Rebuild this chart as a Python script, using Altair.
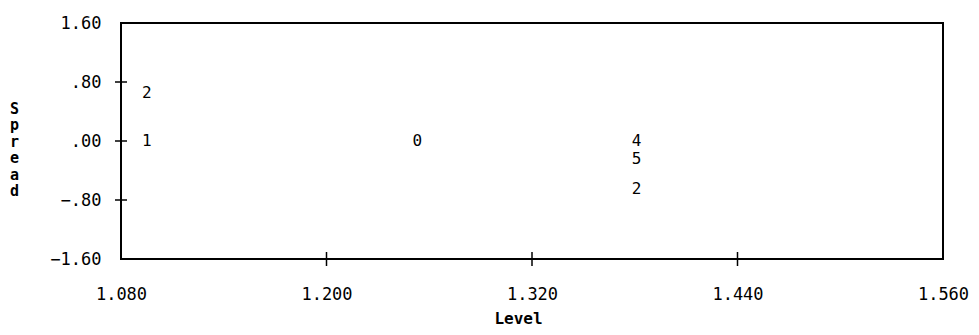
import altair as alt
import pandas as pd

# data
level = [1.095, 1.095, 1.253, 1.381, 1.381, 1.381]
spread = [0.65, 0.00, 0.00, 0.00, -0.24, -0.65]
digit = ["2", "1", "0", "4", "5", "2"]

x_ticks = [1.08, 1.20, 1.32, 1.44, 1.56]
y_ticks = [-1.60, -0.80, 0.00, 0.80, 1.60]
x_inner = [1.20, 1.32, 1.44]
y_inner = [-0.80, 0.00, 0.80]

W, H = 822, 236
FONT = "DejaVu Sans Mono"
INK = "#000000"

pts = pd.DataFrame({"Level": level, "Spread": spread, "digit": digit})
xt_df = pd.DataFrame({"Level": x_inner})
yt_df = pd.DataFrame({"Spread": y_inner})

xs = alt.Scale(domain=[x_ticks[0], x_ticks[-1]], nice=False, zero=False)
ys = alt.Scale(domain=[y_ticks[0], y_ticks[-1]], nice=False, zero=False)

x_axis = alt.Axis(
    values=x_ticks, format=".3f", title="Level", ticks=False, domain=False,
    grid=False, labelFont=FONT, labelFontSize=17, labelColor=INK,
    labelPadding=27, labelFlush=False, labelOverlap=False,
    titleFont=FONT, titleFontSize=16, titleFontWeight="bold", titleColor=INK,
    titleX=397, titleY=59, titleBaseline="middle", titleAlign="center")
y_axis = alt.Axis(
    values=y_ticks, labelExpr="replace(format(datum.value, '.2f'), '0.', '.')",
    title=["S", "p", "r", "e", "a", "d"], titleAngle=0, ticks=False, domain=False,
    grid=False, labelFont=FONT, labelFontSize=17, labelColor=INK,
    labelPadding=20, labelFlush=False, labelOverlap=False,
    titleFont=FONT, titleFontSize=15, titleFontWeight="bold", titleColor=INK,
    titleX=-107, titleY=85, titleAlign="center", titleBaseline="middle",
    titleLineHeight=16.5)

text = alt.Chart(pts).mark_text(font=FONT, fontSize=16, color=INK).encode(
    x=alt.X("Level:Q", scale=xs, axis=x_axis),
    y=alt.Y("Spread:Q", scale=ys, axis=y_axis),
    text="digit:N",
)

xtick = alt.Chart(xt_df).mark_rule(color=INK, strokeWidth=1.5).encode(
    x=alt.X("Level:Q", scale=xs, axis=x_axis),
    y=alt.value(H - 7), y2=alt.value(H + 7),
)
ytick = alt.Chart(yt_df).mark_rule(color=INK, strokeWidth=1.5).encode(
    y=alt.Y("Spread:Q", scale=ys, axis=y_axis),
    x=alt.value(-6), x2=alt.value(6),
)

chart = alt.layer(text, xtick, ytick).properties(
    width=W, height=H,
    padding={"left": 113, "top": 15, "right": 28, "bottom": 68},
    autosize="none",
    background="white",
).configure_view(stroke=INK, strokeWidth=2)

chart.save("out.html", embed_options={"renderer": "svg", "actions": False})
